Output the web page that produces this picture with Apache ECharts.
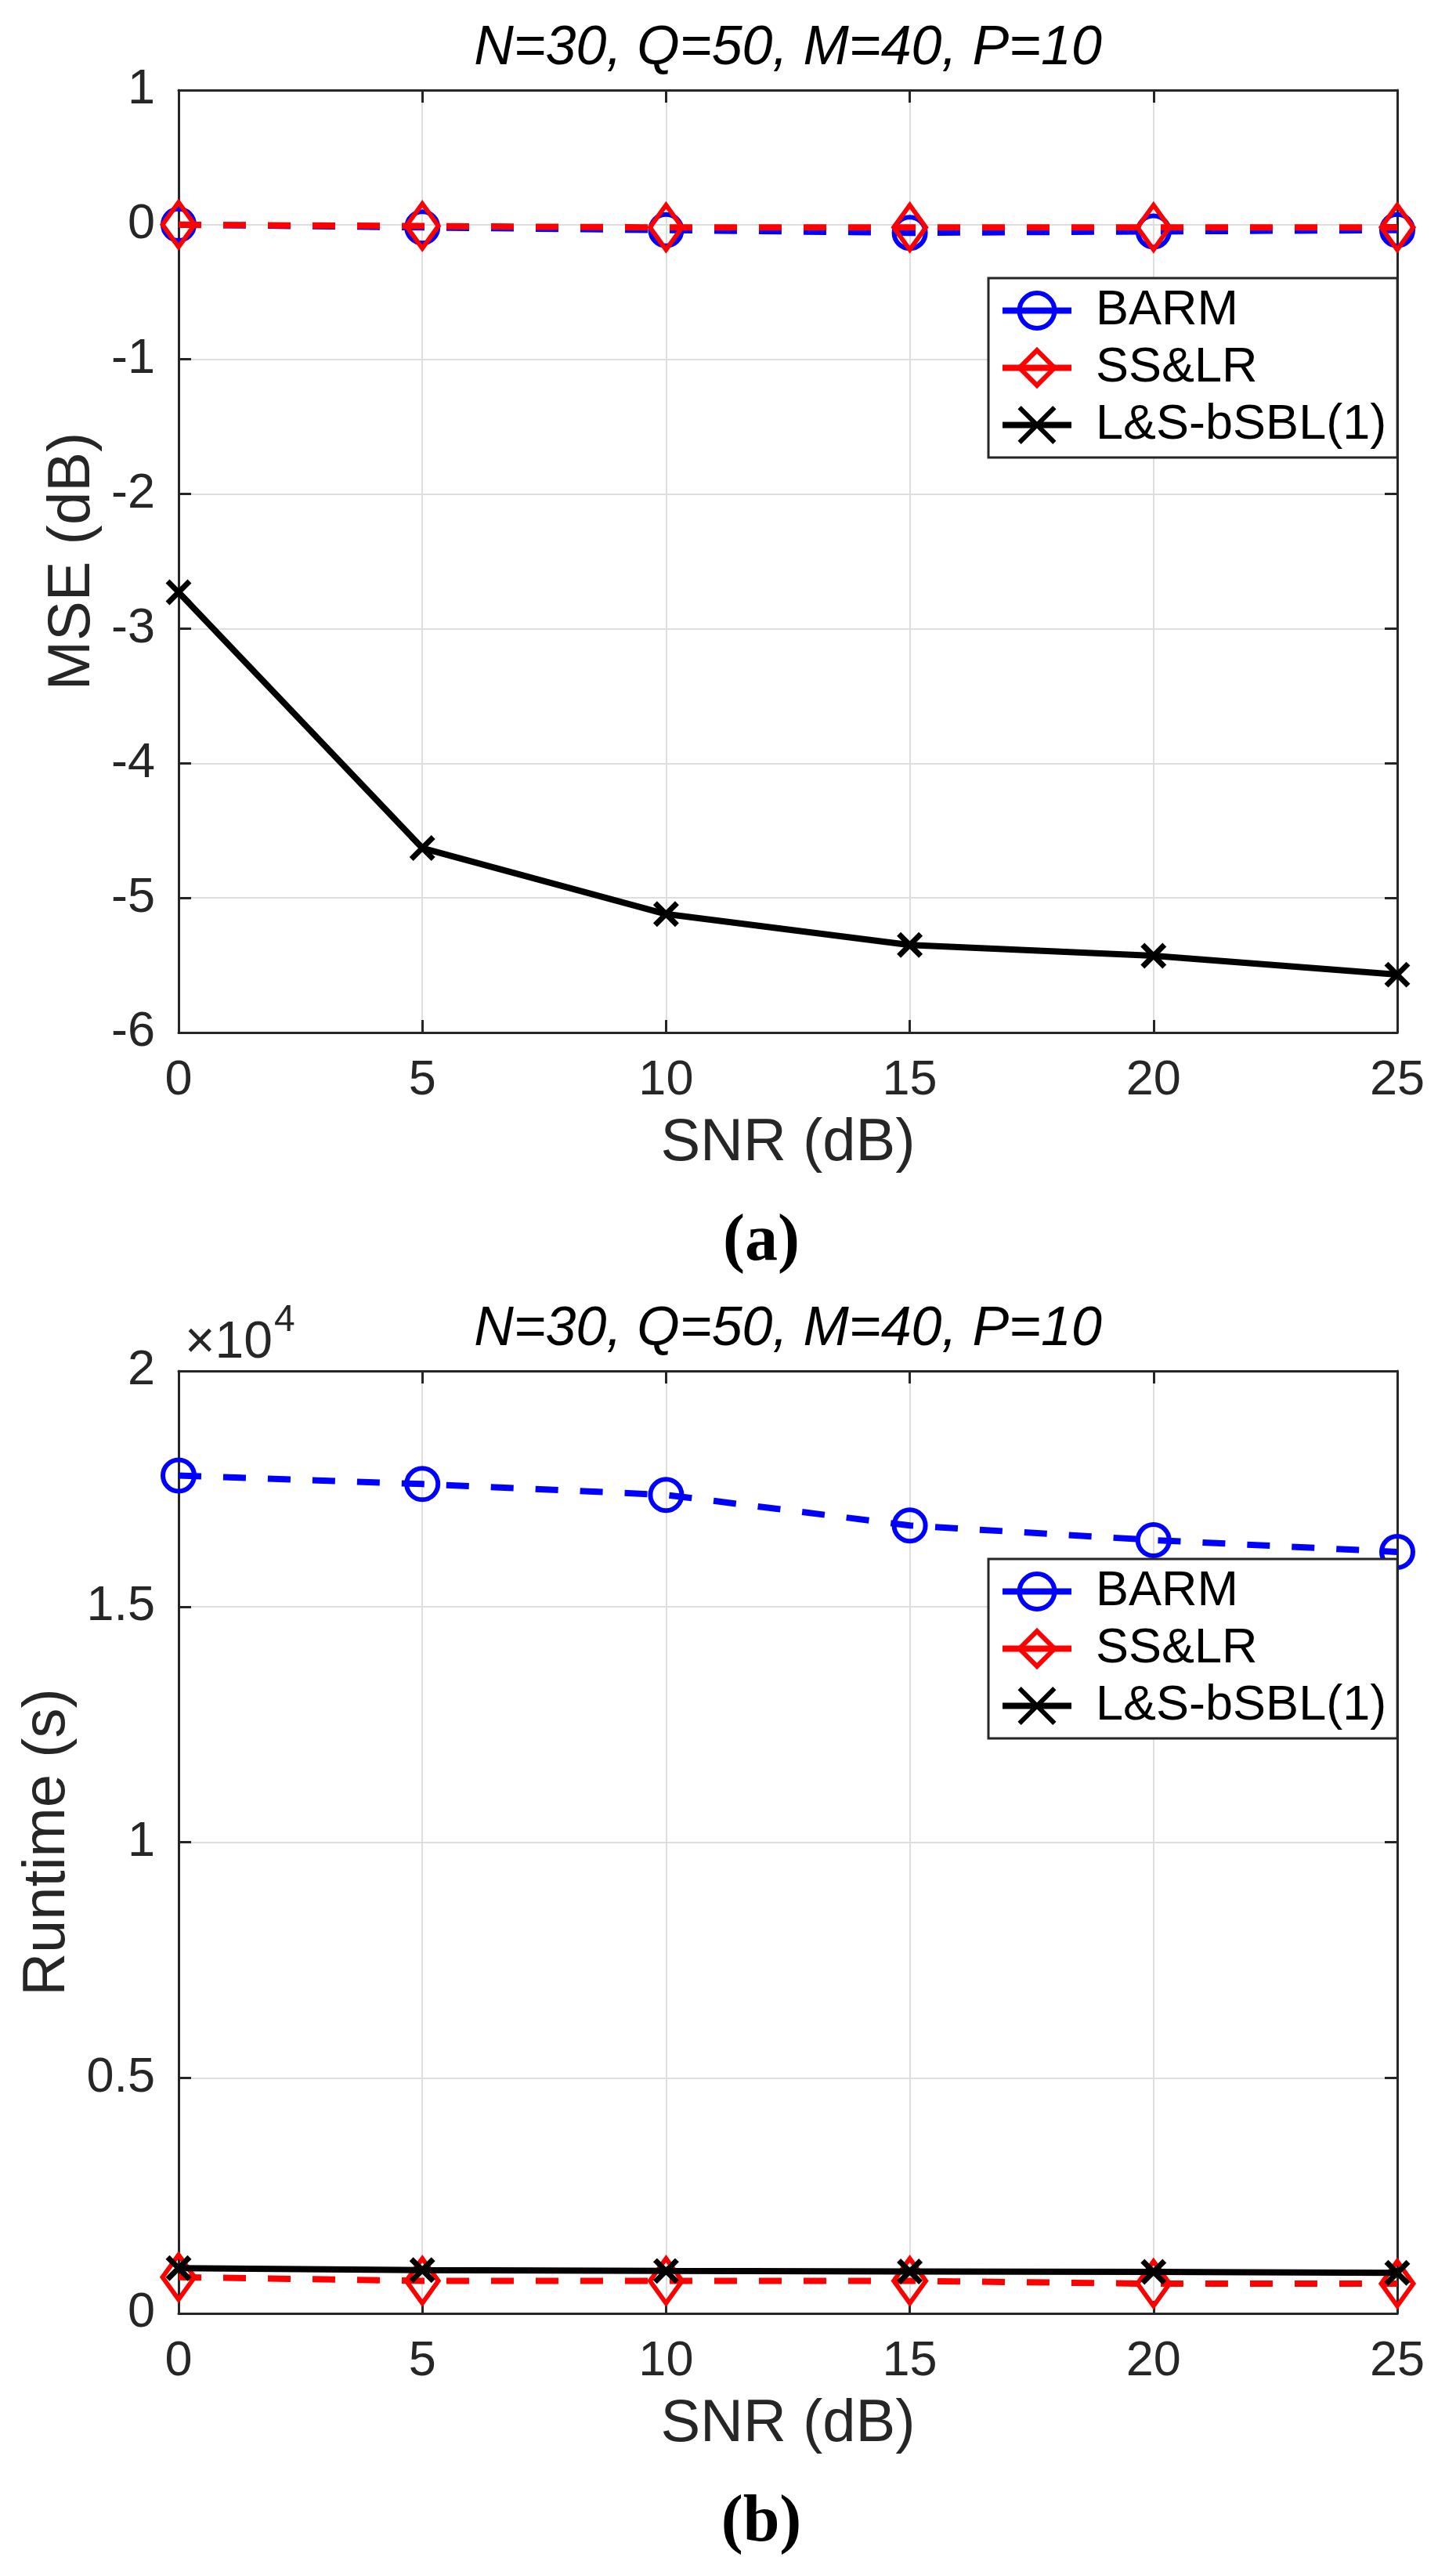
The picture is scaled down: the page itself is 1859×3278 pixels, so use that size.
<!DOCTYPE html>
<html>
<head>
<meta charset="utf-8">
<script src="https://cdn.jsdelivr.net/npm/echarts@6/dist/echarts.min.js"></script>
<style>
  html, body { margin: 0; padding: 0; background: #fff; }
  #chart { width: 1859px; height: 3278px; }
</style>
</head>
<body>
<div id="chart"></div>
<script>
// SNR values on the x axis
const SNR = [0, 5, 10, 15, 20, 25];

// (a) MSE in dB
const MSE_BARM = [0, -0.02, -0.04, -0.06, -0.05, -0.04];
const MSE_SSLR = [0, -0.01, -0.02, -0.02, -0.02, -0.02];
const MSE_LSBSBL = [-2.73, -4.63, -5.12, -5.35, -5.43, -5.57];

// (b) runtime in seconds
const RT_BARM = [17780, 17600, 17370, 16720, 16410, 16160];
const RT_SSLR = [770, 690, 690, 690, 630, 630];
const RT_LSBSBL = [960, 920, 900, 890, 880, 860];
const RT_TICKS = ['0', '0.5', '1', '1.5', '2'];

const NAMES = ['BARM', 'SS&LR', 'L&S-bSBL(1)'];
const TITLE = 'N=30, Q=50, M=40, P=10';

const FONT = 'Liberation Sans';
const AX = '#262626';
const GRID_C = '#dedede';

const GRIDS = [
  { left: 228, top: 115, width: 1556, height: 1203 },
  { left: 228, top: 1750, width: 1556, height: 1203 }
];

const pairs = (ys) => SNR.map((x, i) => [x, ys[i]]);

function xAxes(g, name) {
  const base = {
    gridIndex: g, type: 'value', min: 0, max: 25, interval: 5,
    axisLine: { show: true, onZero: false, lineStyle: { color: AX, width: 3 } },
    axisTick: { show: true, inside: true, length: 16, lineStyle: { color: AX, width: 3 } }
  };
  return [
    Object.assign({}, base, {
      position: 'bottom',
      axisLabel: { margin: 30, fontSize: 63, color: AX, fontFamily: FONT },
      splitLine: { show: true, lineStyle: { color: GRID_C, width: 2 } },
      name: name, nameLocation: 'middle', nameGap: 104,
      nameTextStyle: { fontSize: 76, color: AX, fontFamily: FONT }
    }),
    Object.assign({}, base, {
      position: 'top', axisLabel: { show: false }, splitLine: { show: false }
    })
  ];
}

function yAxes(g, min, max, interval, name, gap, fmt) {
  const base = {
    gridIndex: g, type: 'value', min: min, max: max, interval: interval,
    axisLine: { show: true, onZero: false, lineStyle: { color: AX, width: 3 } },
    axisTick: { show: true, inside: true, length: 16, lineStyle: { color: AX, width: 3 } }
  };
  return [
    Object.assign({}, base, {
      position: 'left',
      axisLabel: { margin: 30, fontSize: 63, color: AX, fontFamily: FONT, formatter: fmt },
      splitLine: { show: true, lineStyle: { color: GRID_C, width: 2 } },
      name: name, nameLocation: 'middle', nameGap: gap,
      nameTextStyle: { fontSize: 76, color: AX, fontFamily: FONT }
    }),
    Object.assign({}, base, {
      position: 'right', axisLabel: { show: false }, splitLine: { show: false }
    })
  ];
}

const CROSS = 'path://M0,0L10,10M10,0L0,10';

function seriesFor(g, barm, sslr, ls) {
  const xi = g * 2, yi = g * 2;
  return [
    {
      name: NAMES[0], type: 'line', xAxisIndex: xi, yAxisIndex: yi,
      data: pairs(barm), symbol: 'circle', symbolSize: 40,
      lineStyle: { color: '#0000ff', width: 8, type: [29, 28] },
      itemStyle: { color: 'rgba(255,255,255,0)', borderColor: '#0000ff', borderWidth: 6 },
      z: 2
    },
    {
      name: NAMES[1], type: 'line', xAxisIndex: xi, yAxisIndex: yi,
      data: pairs(sslr), symbol: 'diamond', symbolSize: [41, 57],
      lineStyle: { color: '#ff0000', width: 8, type: [29, 28] },
      itemStyle: { color: 'rgba(255,255,255,0)', borderColor: '#ff0000', borderWidth: 6 },
      z: 3
    },
    {
      name: NAMES[2], type: 'line', xAxisIndex: xi, yAxisIndex: yi,
      data: pairs(ls), symbol: CROSS, symbolSize: 28,
      lineStyle: { color: '#000000', width: 8, type: 'solid' },
      itemStyle: { color: '#000000', borderColor: '#000000', borderWidth: 7 },
      z: 4
    }
  ];
}

function legendAt(top) {
  return {
    data: NAMES, orient: 'vertical', left: 1262, top: top,
    width: 477, height: 220,
    padding: [10, 14, 10, 14], itemGap: 10,
    itemWidth: 88, itemHeight: 56,
    backgroundColor: '#fff', borderColor: AX, borderWidth: 3,
    lineStyle: { width: 8, type: 'solid' },
    itemStyle: { borderWidth: 6 },
    textStyle: { fontSize: 63, color: '#000', fontFamily: FONT, padding: [0, 0, 0, 26] },
    selectedMode: false
  };
}

function titleText(y) {
  return {
    type: 'text', x: 1006, y: y,
    style: {
      text: TITLE, font: 'italic 70px "Liberation Sans"', fill: '#000',
      textAlign: 'center', textVerticalAlign: 'middle'
    }
  };
}

function panelTag(txt, y) {
  return {
    type: 'text', x: 972, y: y,
    style: {
      text: txt, font: 'bold 84px "Liberation Serif"', fill: '#000',
      textAlign: 'center', textVerticalAlign: 'middle'
    }
  };
}

const chart = echarts.init(document.getElementById('chart'), null, { renderer: 'canvas' });

chart.setOption({
  animation: false,
  backgroundColor: '#fff',
  grid: GRIDS,
  xAxis: [].concat(xAxes(0, 'SNR (dB)'), xAxes(1, 'SNR (dB)')),
  yAxis: [].concat(
    yAxes(0, -6, 1, 1, 'MSE (dB)', 96, (v) => String(v)),
    yAxes(1, 0, 20000, 5000, 'Runtime (s)', 127, (v) => RT_TICKS[Math.round(v / 5000)])
  ),
  legend: [legendAt(355), legendAt(1990)],
  series: [].concat(
    seriesFor(0, MSE_BARM, MSE_SSLR, MSE_LSBSBL),
    seriesFor(1, RT_BARM, RT_SSLR, RT_LSBSBL)
  ),
  graphic: [
    titleText(63),
    titleText(1698),
    panelTag('(a)', 1586),
    panelTag('(b)', 3221),
    {
      type: 'text', x: 236, y: 1715,
      style: { text: '×10', font: '66px "Liberation Sans"', fill: AX, textAlign: 'left', textVerticalAlign: 'middle' }
    },
    {
      type: 'text', x: 350, y: 1686,
      style: { text: '4', font: '48px "Liberation Sans"', fill: AX, textAlign: 'left', textVerticalAlign: 'middle' }
    }
  ]
});
</script>
</body>
</html>
